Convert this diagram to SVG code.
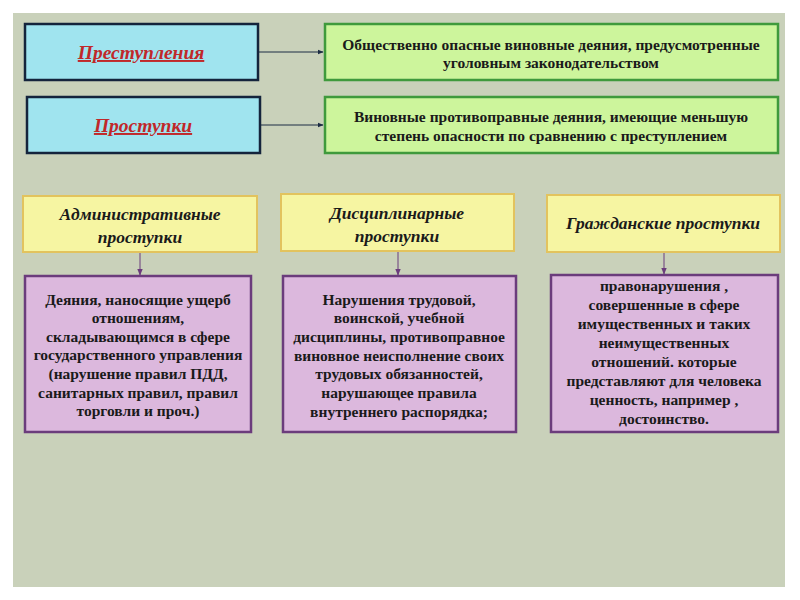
<svg xmlns="http://www.w3.org/2000/svg" width="800" height="600" viewBox="0 0 800 600">
<defs>
<style>
.t{font-family:"Liberation Serif","Times New Roman",serif;font-weight:bold;text-anchor:middle;fill:#1a1a1a}
.b{font-size:15.5px}
.h{font-size:17.5px;font-style:italic}
.r{font-size:19.5px;font-style:italic;fill:#c0282a;text-decoration:underline}
.cy{fill:#a0e4ef;stroke:#14243c;stroke-width:2.5}
.gr{fill:#cdf59c;stroke:#3f9a3c;stroke-width:2.5}
.ye{fill:#f6f5a2;stroke:#e2c35e;stroke-width:2}
.pu{fill:#dcb8dd;stroke:#6b3c7c;stroke-width:2.5}
.c1{stroke:#1c2c44;stroke-width:1;fill:none}
.c2{stroke:#6b3c7c;stroke-width:1;fill:none}
</style>
<marker id="a1" viewBox="0 0 10 10" refX="9" refY="5" markerWidth="6" markerHeight="6" orient="auto"><path d="M0,1 L10,5 L0,9 z" fill="#1c2c44"/></marker>
<marker id="a2" viewBox="0 0 10 10" refX="9" refY="5" markerWidth="7" markerHeight="7" orient="auto"><path d="M0,1 L10,5 L0,9 z" fill="#6b3c7c"/></marker>
</defs>
<rect x="0" y="0" width="800" height="600" fill="#ffffff"/>
<rect x="13" y="13" width="772" height="574" fill="#c9d1ba"/>

<g id="connectors">
<line class="c1" x1="259" y1="52" x2="323" y2="52" marker-end="url(#a1)"/>
<line class="c1" x1="261" y1="125" x2="323" y2="125" marker-end="url(#a1)"/>
<line class="c2" x1="140" y1="253" x2="140" y2="275" marker-end="url(#a2)"/>
<line class="c2" x1="398" y1="252" x2="398" y2="275" marker-end="url(#a2)"/>
<line class="c2" x1="664" y1="253" x2="664" y2="274" marker-end="url(#a2)"/>
</g>

<g id="n-prestupleniya">
<rect class="cy" x="25" y="24" width="233" height="56"/>
<text class="t r" x="141" y="59">Преступления</text>
</g>
<g id="n-prostupki">
<rect class="cy" x="27" y="97" width="233" height="56"/>
<text class="t r" x="143" y="132">Проступки</text>
</g>
<g id="n-def1">
<rect class="gr" x="325" y="24" width="453" height="56"/>
<text class="t b" x="551" y="50">Общественно опасные виновные деяния, предусмотренные</text>
<text class="t b" x="551" y="68">уголовным законодательством</text>
</g>
<g id="n-def2">
<rect class="gr" x="325" y="97" width="453" height="56"/>
<text class="t b" x="551" y="122">Виновные противоправные деяния, имеющие меньшую</text>
<text class="t b" x="551" y="141">степень опасности по сравнению с преступлением</text>
</g>

<g id="n-admin">
<rect class="ye" x="23" y="196" width="234" height="56"/>
<text class="t h" x="140" y="220">Административные</text>
<text class="t h" x="140" y="243">проступки</text>
</g>
<g id="n-discip">
<rect class="ye" x="281" y="194" width="233" height="57"/>
<text class="t h" x="397" y="219">Дисциплинарные</text>
<text class="t h" x="397" y="242">проступки</text>
</g>
<g id="n-civil">
<rect class="ye" x="547" y="195" width="233" height="57"/>
<text class="t h" x="663" y="229">Гражданские проступки</text>
</g>

<g id="n-admin-desc">
<rect class="pu" x="25" y="276" width="226" height="156"/>
<text class="t b" x="138" y="305">Деяния, наносящие ущерб</text>
<text class="t b" x="138" y="323">отношениям,</text>
<text class="t b" x="138" y="342">складывающимся в сфере</text>
<text class="t b" x="138" y="360">государственного управления</text>
<text class="t b" x="138" y="379">(нарушение правил ПДД,</text>
<text class="t b" x="138" y="398">санитарных правил, правил</text>
<text class="t b" x="138" y="416">торговли и проч.)</text>
</g>
<g id="n-discip-desc">
<rect class="pu" x="283" y="276" width="233" height="156"/>
<text class="t b" x="399" y="305">Нарушения трудовой,</text>
<text class="t b" x="399" y="323">воинской, учебной</text>
<text class="t b" x="399" y="342">дисциплины, противоправное</text>
<text class="t b" x="399" y="361">виновное неисполнение своих</text>
<text class="t b" x="399" y="379">трудовых обязанностей,</text>
<text class="t b" x="399" y="398">нарушающее правила</text>
<text class="t b" x="399" y="417">внутреннего распорядка;</text>
</g>
<g id="n-civil-desc">
<rect class="pu" x="551" y="275" width="227" height="157"/>
<text class="t b" x="664" y="291">правонарушения ,</text>
<text class="t b" x="664" y="310">совершенные в сфере</text>
<text class="t b" x="664" y="329">имущественных и таких</text>
<text class="t b" x="664" y="348">неимущественных</text>
<text class="t b" x="664" y="367">отношений. которые</text>
<text class="t b" x="664" y="386">представляют для человека</text>
<text class="t b" x="664" y="405">ценность, например ,</text>
<text class="t b" x="664" y="424">достоинство.</text>
</g>
</svg>
